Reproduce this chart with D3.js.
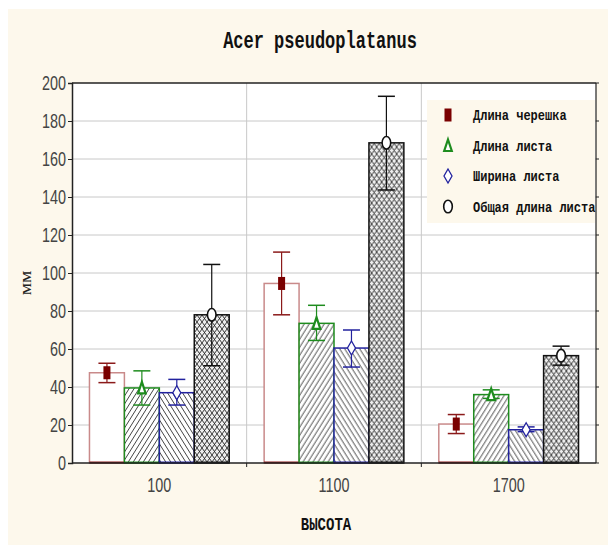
<!DOCTYPE html>
<html>
<head>
<meta charset="utf-8">
<script src="https://cdn.jsdelivr.net/npm/d3@7"></script>
<style>
  body { margin: 0; background: #fff; }
  svg { display: block; }
</style>
</head>
<body>
<svg id="chart" width="608" height="545"></svg>
<script>
// data
const groups = ['100', '1100', '1700'];
const seriesNames = ['Длина черешка', 'Длина листа', 'Ширина листа', 'Общая длина листа'];
const petiole     = [47.5, 94.5, 20.5];
const petioleLo   = [42.3, 78.0, 15.5];
const petioleHi   = [52.5, 111.0, 25.5];
const leafLen     = [39.5, 73.5, 36.0];
const leafLenLo   = [30.5, 64.5, 34.0];
const leafLenHi   = [48.5, 83.0, 38.5];
const leafWid     = [37.0, 60.5, 17.5];
const leafWidLo   = [30.5, 50.5, 16.5];
const leafWidHi   = [44.0, 70.0, 19.0];
const totalLen    = [78.0, 168.5, 56.5];
const totalLenLo  = [51.2, 143.7, 51.5];
const totalLenHi  = [104.5, 193.0, 61.5];
const yTicks = [0, 20, 40, 60, 80, 100, 120, 140, 160, 180, 200];

const series = [
  { name: seriesNames[0], mean: petiole,  lo: petioleLo,  hi: petioleHi,  color: '#8b1a1a', edge: '#c98a8a', fill: '#fff',              marker: 'square' },
  { name: seriesNames[1], mean: leafLen,  lo: leafLenLo,  hi: leafLenHi,  color: '#1e8c1e', edge: '#1e8c1e', fill: 'url(#hatchR)',      marker: 'triangle' },
  { name: seriesNames[2], mean: leafWid,  lo: leafWidLo,  hi: leafWidHi,  color: '#22229e', edge: '#22229e', fill: 'url(#hatchL)',      marker: 'diamond' },
  { name: seriesNames[3], mean: totalLen, lo: totalLenLo, hi: totalLenHi, color: '#111111', edge: '#111111', fill: 'url(#crossHatch)', marker: 'circle' }
];

const cream = '#fdf8ec';
const monoFont = 'Liberation Mono, Courier New, monospace';
const plot = { left: 72, top: 83, right: 596, bottom: 463 };

const svg = d3.select('#chart');

// patterns
const defs = svg.append('defs');
const hatchR = defs.append('pattern')
  .attr('id', 'hatchR').attr('patternUnits', 'userSpaceOnUse')
  .attr('width', 5).attr('height', 8);
hatchR.append('rect').attr('width', 5).attr('height', 8).attr('fill', '#fff');
hatchR.append('path').attr('d', 'M0,8 L5,0 M-1,1.6 L1,-1.6 M4,9.6 L6,6.4')
  .attr('stroke', '#444').attr('stroke-width', 1);

const hatchL = defs.append('pattern')
  .attr('id', 'hatchL').attr('patternUnits', 'userSpaceOnUse')
  .attr('width', 5).attr('height', 8);
hatchL.append('rect').attr('width', 5).attr('height', 8).attr('fill', '#fff');
hatchL.append('path').attr('d', 'M0,0 L5,8 M-1,6.4 L1,9.6 M4,-1.6 L6,1.6')
  .attr('stroke', '#444').attr('stroke-width', 1);

const cross = defs.append('pattern')
  .attr('id', 'crossHatch').attr('patternUnits', 'userSpaceOnUse')
  .attr('width', 5).attr('height', 7);
cross.append('rect').attr('width', 5).attr('height', 7).attr('fill', '#eee');
cross.append('path').attr('d', 'M0,0 L5,7 M5,0 L0,7')
  .attr('stroke', '#222').attr('stroke-width', 0.9);

// background
svg.append('rect')
  .attr('x', 8).attr('y', 9).attr('width', 600).attr('height', 536)
  .attr('fill', cream);

// scales
const x0 = d3.scaleBand().domain(groups).range([plot.left, plot.right]).padding(0);
const x1 = d3.scaleBand().domain(seriesNames).range([0, x0.bandwidth()])
  .paddingInner(0).paddingOuter(0.5);
const y = d3.scaleLinear().domain([0, 200]).range([plot.bottom, plot.top]);

// plot area
svg.append('rect')
  .attr('x', plot.left).attr('y', plot.top)
  .attr('width', plot.right - plot.left).attr('height', plot.bottom - plot.top)
  .attr('fill', '#fff');

// grid
svg.append('g')
  .selectAll('line.hgrid')
  .data(yTicks.slice(1, -1))
  .enter().append('line')
  .attr('class', 'hgrid')
  .attr('x1', plot.left).attr('x2', plot.right)
  .attr('y1', d => y(d)).attr('y2', d => y(d))
  .attr('stroke', '#c8c8c8').attr('stroke-width', 1);

svg.append('g')
  .selectAll('line.vgrid')
  .data(groups.slice(1))
  .enter().append('line')
  .attr('class', 'vgrid')
  .attr('x1', d => x0(d)).attr('x2', d => x0(d))
  .attr('y1', plot.top).attr('y2', plot.bottom)
  .attr('stroke', '#c8c8c8').attr('stroke-width', 1);

// legend box (covers grid)
const legend = svg.append('g').attr('transform', 'translate(427,100)');
legend.append('rect')
  .attr('width', plot.right - 427 - 1).attr('height', 123)
  .attr('fill', cream);

// bars
const groupG = svg.append('g')
  .selectAll('g.group')
  .data(groups)
  .enter().append('g')
  .attr('class', 'group')
  .attr('transform', d => `translate(${x0(d)},0)`);

const bw = x1.bandwidth();

groupG.each(function (g, gi) {
  const sel = d3.select(this);
  series.forEach(s => {
    const bx = x1(s.name);
    const v = s.mean[gi];
    sel.append('rect')
      .attr('x', bx).attr('y', y(v))
      .attr('width', bw).attr('height', y(0) - y(v))
      .attr('fill', s.fill)
      .attr('stroke', s.edge).attr('stroke-width', 1.5);
    sel.append('line')
      .attr('x1', bx).attr('x2', bx + bw)
      .attr('y1', y(0) - 0.5).attr('y2', y(0) - 0.5)
      .attr('stroke', s.color).attr('stroke-width', 2);
  });
});

// error bars + markers
function drawMarker(sel, type, color, cx, cy) {
  if (type === 'square') {
    sel.append('rect')
      .attr('x', cx - 3.5).attr('y', cy - 6.5)
      .attr('width', 7).attr('height', 13)
      .attr('fill', '#7a0000');
  } else if (type === 'triangle') {
    sel.append('path')
      .attr('d', `M${cx},${cy - 6} L${cx + 3.8},${cy + 5.5} L${cx - 3.8},${cy + 5.5} Z`)
      .attr('fill', '#fff').attr('stroke', color).attr('stroke-width', 2.2);
  } else if (type === 'diamond') {
    sel.append('path')
      .attr('d', `M${cx},${cy - 7} L${cx + 4},${cy} L${cx},${cy + 7} L${cx - 4},${cy} Z`)
      .attr('fill', '#fff').attr('stroke', color).attr('stroke-width', 1.3);
  } else {
    sel.append('ellipse')
      .attr('cx', cx).attr('cy', cy).attr('rx', 4.3).attr('ry', 6.3)
      .attr('fill', '#fff').attr('stroke', color).attr('stroke-width', 1.6);
  }
}

const capW = 17;
groupG.each(function (g, gi) {
  const sel = d3.select(this);
  series.forEach(s => {
    const cx = x1(s.name) + bw / 2;
    const lo = y(s.lo[gi]), hi = y(s.hi[gi]);
    sel.append('line')
      .attr('x1', cx).attr('x2', cx).attr('y1', hi).attr('y2', lo)
      .attr('stroke', s.color).attr('stroke-width', 1.2);
    [lo, hi].forEach(yy => {
      sel.append('line')
        .attr('x1', cx - capW / 2).attr('x2', cx + capW / 2)
        .attr('y1', yy).attr('y2', yy)
        .attr('stroke', s.color).attr('stroke-width', 1.5);
    });
    drawMarker(sel, s.marker, s.color, cx, y(s.mean[gi]));
  });
});

// frame
svg.append('line')
  .attr('x1', plot.left).attr('x2', plot.right).attr('y1', plot.top).attr('y2', plot.top)
  .attr('stroke', '#222').attr('stroke-width', 1.5);
svg.append('line')
  .attr('x1', plot.right).attr('x2', plot.right).attr('y1', plot.top).attr('y2', plot.bottom)
  .attr('stroke', '#222').attr('stroke-width', 1.2);
svg.append('g')
  .selectAll('line.rtick')
  .data(yTicks)
  .enter().append('line')
  .attr('x1', plot.right).attr('x2', plot.right + 3)
  .attr('y1', d => y(d)).attr('y2', d => y(d))
  .attr('stroke', '#222');

// y axis
const yAxis = svg.append('g')
  .attr('transform', `translate(${plot.left},0)`)
  .call(d3.axisLeft(y).tickValues(yTicks).tickSize(4).tickFormat(''));
yAxis.select('.domain').attr('stroke', '#222').attr('stroke-width', 1.5);
yAxis.selectAll('.tick line').attr('stroke', '#222');

svg.append('g')
  .selectAll('text.ylab')
  .data(yTicks)
  .enter().append('text')
  .attr('class', 'ylab')
  .attr('transform', d => `translate(66,${y(d) + 7}) scale(0.72,1)`)
  .attr('text-anchor', 'end')
  .attr('font-family', 'Liberation Sans, Arial, sans-serif')
  .attr('font-size', 20)
  .attr('fill', '#444')
  .text(d => d);

// x axis
svg.append('line')
  .attr('x1', plot.left).attr('x2', plot.right).attr('y1', plot.bottom).attr('y2', plot.bottom)
  .attr('stroke', '#222').attr('stroke-width', 1.5);
svg.append('g')
  .selectAll('line.xtick')
  .data(groups.slice(1))
  .enter().append('line')
  .attr('x1', d => x0(d)).attr('x2', d => x0(d))
  .attr('y1', plot.bottom).attr('y2', plot.bottom + 4)
  .attr('stroke', '#222');

svg.append('g')
  .selectAll('text.xlab')
  .data(groups)
  .enter().append('text')
  .attr('class', 'xlab')
  .attr('transform', d => `translate(${x0(d) + x0.bandwidth() / 2},492) scale(0.72,1)`)
  .attr('text-anchor', 'middle')
  .attr('font-family', 'Liberation Sans, Arial, sans-serif')
  .attr('font-size', 20)
  .attr('fill', '#444')
  .text(d => d);

// titles (glyphs stretched vertically like the original)
svg.append('text')
  .attr('transform', 'translate(320,48) scale(1,1.4)')
  .attr('text-anchor', 'middle')
  .attr('font-family', monoFont)
  .attr('font-weight', 'bold')
  .attr('font-size', 17)
  .attr('fill', '#111')
  .text('Acer pseudoplatanus');

svg.append('text')
  .attr('transform', 'translate(326,530) scale(1,1.35)')
  .attr('text-anchor', 'middle')
  .attr('font-family', monoFont)
  .attr('font-weight', 'bold')
  .attr('font-size', 14)
  .attr('fill', '#111')
  .text('ВЫСОТА');

svg.append('text')
  .attr('transform', 'translate(31,283) rotate(-90) scale(1.15,1)')
  .attr('text-anchor', 'middle')
  .attr('font-family', 'Liberation Serif, Times New Roman, serif')
  .attr('font-size', 17)
  .attr('fill', '#222')
  .text('мм');

// legend entries
const entry = legend.selectAll('g.entry')
  .data(series)
  .enter().append('g')
  .attr('class', 'entry')
  .attr('transform', (d, i) => `translate(0,${15 + i * 30.5})`);

entry.each(function (d) {
  drawMarker(d3.select(this), d.marker, d.color, 21, 0);
});

entry.append('text')
  .attr('transform', 'translate(46,5) scale(1,1.25)')
  .attr('font-family', monoFont)
  .attr('font-weight', 'bold')
  .attr('font-size', 12)
  .attr('fill', '#111')
  .text(d => d.name);
</script>
</body>
</html>
